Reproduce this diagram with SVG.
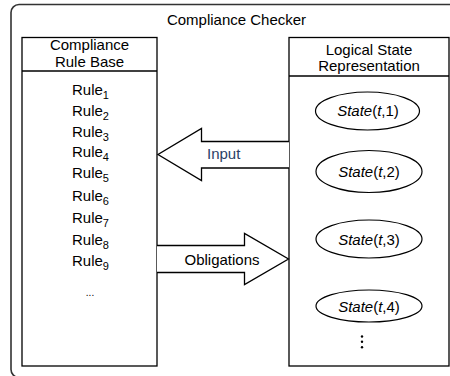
<svg xmlns="http://www.w3.org/2000/svg" width="450" height="376" viewBox="0 0 450 376">
<style>
text{font-family:"Liberation Sans",Arial,sans-serif;font-size:15px;fill:#000}
.c{text-anchor:middle}
.box{fill:#fff;stroke:#000;stroke-width:1.3}
.ln{stroke:#000;stroke-width:1.3;fill:none}
.ell{fill:#fff;stroke:#000;stroke-width:1.2}
.sub{font-size:11px}
.i{font-style:italic}
.arrow{fill:#fff;stroke:#000;stroke-width:1.3;stroke-linejoin:miter}
</style>
<rect width="450" height="376" fill="#fff"/>
<g id="checker">
<rect x="11" y="4.5" width="460" height="373" rx="8" fill="none" stroke="#333" stroke-width="1.6"/>
<text class="c" x="236.5" y="25">Compliance Checker</text>
</g>
<g id="rulebase">
<rect class="box" x="22" y="37.5" width="135" height="328.5"/>
<line class="ln" x1="22" y1="71" x2="157" y2="71"/>
<text class="c" x="89.5" y="50">Compliance</text>
<text class="c" x="89.5" y="66.5">Rule Base</text>
<text x="72" y="95">Rule<tspan class="sub" dy="4">1</tspan></text>
<text x="72" y="116">Rule<tspan class="sub" dy="4">2</tspan></text>
<text x="72" y="137">Rule<tspan class="sub" dy="4">3</tspan></text>
<text x="72" y="157">Rule<tspan class="sub" dy="4">4</tspan></text>
<text x="72" y="178">Rule<tspan class="sub" dy="4">5</tspan></text>
<text x="72" y="201">Rule<tspan class="sub" dy="4">6</tspan></text>
<text x="72" y="222.5">Rule<tspan class="sub" dy="4">7</tspan></text>
<text x="72" y="244.5">Rule<tspan class="sub" dy="4">8</tspan></text>
<text x="72" y="266">Rule<tspan class="sub" dy="4">9</tspan></text>
<text class="c" x="90" y="296" style="font-size:10px">...</text>
</g>
<g id="staterep">
<rect class="box" x="289" y="37.5" width="160" height="328.5"/>
<line class="ln" x1="289" y1="76" x2="449" y2="76"/>
<text class="c" x="369" y="55">Logical State</text>
<text class="c" x="369" y="71">Representation</text>
</g>
<g id="state1">
<ellipse class="ell" cx="367.5" cy="111" rx="52" ry="19"/>
<text class="c" x="368" y="116"><tspan class="i">State</tspan>(<tspan class="i">t</tspan>,1)</text>
</g>
<g id="state2">
<ellipse class="ell" cx="369" cy="171.5" rx="53" ry="21"/>
<text class="c" x="369" y="177"><tspan class="i">State</tspan>(<tspan class="i">t</tspan>,2)</text>
</g>
<g id="state3">
<ellipse class="ell" cx="369" cy="239" rx="53" ry="19"/>
<text class="c" x="369" y="244.5"><tspan class="i">State</tspan>(<tspan class="i">t</tspan>,3)</text>
</g>
<g id="state4">
<ellipse class="ell" cx="369" cy="306" rx="53" ry="16"/>
<text class="c" x="369" y="311.5"><tspan class="i">State</tspan>(<tspan class="i">t</tspan>,4)</text>
</g>
<g id="vdots" fill="#000">
<circle cx="362" cy="336.5" r="1.2"/>
<circle cx="362" cy="341.8" r="1.2"/>
<circle cx="362" cy="347.2" r="1.2"/>
</g>
<g id="connectors">
<g id="input">
<path class="arrow" d="M289 141.5 H201.5 V128.5 L158 154.5 L201.5 180.5 V168 H289"/>
<text x="207" y="158.5" style="fill:#2b3f66">Input</text>
</g>
<g id="obligations">
<path class="arrow" d="M157 245.5 H244.5 V233.5 L288.5 259 L244.5 284.5 V272.5 H157"/>
<text x="184.5" y="265">Obligations</text>
</g>
</g>
</svg>
